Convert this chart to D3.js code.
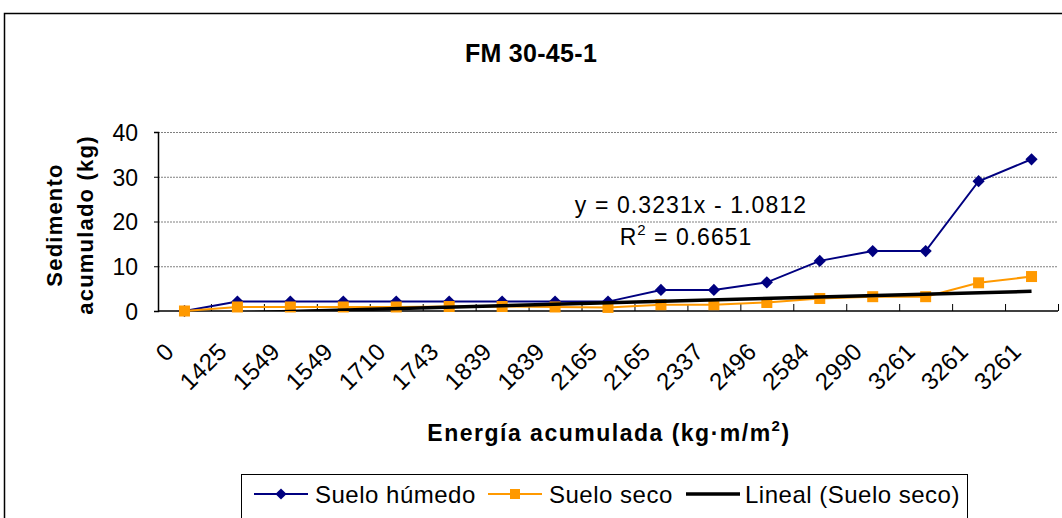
<!DOCTYPE html>
<html>
<head>
<meta charset="utf-8">
<script src="https://cdn.jsdelivr.net/npm/d3@7"></script>
<style>
  html, body { margin: 0; padding: 0; background: #fff; }
  svg { display: block; font-family: Arial, "Liberation Sans", sans-serif; }
</style>
</head>
<body>
<svg id="chart" width="1062" height="518"></svg>
<script>
// ---- data ----
const categories = ["0","1425","1549","1549","1710","1743","1839","1839","2165","2165","2337","2496","2584","2990","3261","3261","3261"];
const sueloHumedo = [0, 2.1, 2.1, 2.1, 2.1, 2.1, 2.1, 2.1, 2.1, 4.7, 4.7, 6.4, 11.2, 13.4, 13.4, 29.0, 33.9];
const sueloSeco   = [0, 0.9, 0.9, 0.9, 0.9, 1.0, 1.0, 0.9, 0.8, 1.4, 1.4, 1.9, 2.8, 3.2, 3.2, 6.3, 7.7];
const trendCoef = [0.3231, -1.0812];   // slope, intercept (x = 1..n)
const yTicks = [0, 10, 20, 30, 40];
const titleText = "FM 30-45-1";
const seriesNames = ["Suelo húmedo", "Suelo seco", "Lineal (Suelo seco)"];

// ---- layout ----
const svg = d3.select("#chart");
const pL = 158, pR = 1058, pT = 132, pB = 311;
const cBlue = "#000080", cOrange = "#FF9900";

// outer chart border
svg.append("rect").attr("x", 4.5).attr("y", 13.5).attr("width", 1070).attr("height", 520)
  .attr("fill", "#fff").attr("stroke", "#000").attr("stroke-width", 1.5);

const x = d3.scaleBand().domain(d3.range(categories.length)).range([pL, pR]).padding(0);
const xc = i => x(i) + x.bandwidth() / 2;
const y = d3.scaleLinear().domain([0, 40]).range([pB, pT]);
const xt = d3.scaleLinear().domain([1, categories.length]).range([xc(0), xc(categories.length - 1)]);

// title
svg.append("text").attr("x", 531).attr("y", 62).attr("text-anchor", "middle")
  .attr("font-size", 25).attr("font-weight", "bold").attr("letter-spacing", 0.3).text(titleText);

// gridlines
svg.append("g").selectAll("line").data(yTicks.filter(d => d > 0)).join("line")
  .attr("x1", pL).attr("x2", pR).attr("y1", d => y(d) + 0.5).attr("y2", d => y(d) + 0.5)
  .attr("stroke", "#808080").attr("stroke-width", 1).attr("stroke-dasharray", "2,1");

// y axis
const yAxis = svg.append("g").attr("transform", `translate(${pL},0)`)
  .call(d3.axisLeft(y).tickValues(yTicks).tickSize(4).tickPadding(16));
yAxis.select(".domain").attr("stroke", "#000").attr("stroke-width", 1.5);
yAxis.selectAll("text").attr("font-size", 23).attr("font-family", "Arial, 'Liberation Sans', sans-serif").attr("fill", "#000").attr("dy", "0.36em");

// x axis line and inside ticks at category boundaries
svg.append("line").attr("x1", pL).attr("x2", pR).attr("y1", pB).attr("y2", pB)
  .attr("stroke", "#000").attr("stroke-width", 1.5);
svg.append("g").selectAll("line").data(d3.range(categories.length + 1)).join("line")
  .attr("x1", i => (i < categories.length ? x(i) : pR) + 0.5)
  .attr("x2", i => (i < categories.length ? x(i) : pR) + 0.5)
  .attr("y1", pB).attr("y2", pB - 7).attr("stroke", "#000").attr("stroke-width", 1);

// x tick labels
svg.append("g").selectAll("text").data(categories).join("text")
  .attr("transform", (d, i) => `translate(${xc(i) - 9},${353}) rotate(-45)`)
  .attr("text-anchor", "end").attr("font-size", 24).attr("letter-spacing", 0.3).text(d => d);

// axis titles
const yt = svg.append("text").attr("transform", "translate(0,225) rotate(-90)")
  .attr("text-anchor", "middle").attr("font-size", 22).attr("font-weight", "bold").attr("letter-spacing", 1.2);
yt.append("tspan").attr("x", 0).attr("y", 62).text("Sedimento");
yt.append("tspan").attr("x", 0).attr("y", 93).text("acumulado (kg)");

const xtl = svg.append("text").attr("x", 609).attr("y", 441).attr("text-anchor", "middle")
  .attr("font-size", 23).attr("font-weight", "bold").attr("letter-spacing", 1.5);
xtl.append("tspan").text("Energía acumulada (kg·m/m");
xtl.append("tspan").attr("font-size", 15).attr("dy", -10).text("2");
xtl.append("tspan").attr("dy", 10).text(")");

// clip for plot area
svg.append("clipPath").attr("id", "plotclip").append("rect")
  .attr("x", pL).attr("y", pT - 20).attr("width", pR - pL + 10).attr("height", pB - pT + 20);

const line = d3.line().x((d, i) => xc(i)).y(d => y(d));

// Suelo húmedo
svg.append("path").datum(sueloHumedo).attr("d", line).attr("fill", "none")
  .attr("stroke", cBlue).attr("stroke-width", 2);
svg.append("g").selectAll("path").data(sueloHumedo).join("path")
  .attr("d", d3.symbol(d3.symbolDiamond2, 95))
  .attr("transform", (d, i) => `translate(${xc(i)},${y(d)})`).attr("fill", cBlue);

// Suelo seco
svg.append("path").datum(sueloSeco).attr("d", line).attr("fill", "none")
  .attr("stroke", cOrange).attr("stroke-width", 2);
svg.append("g").selectAll("rect").data(sueloSeco).join("rect")
  .attr("x", (d, i) => xc(i) - 5.5).attr("y", d => y(d) - 5.5).attr("width", 11).attr("height", 11)
  .attr("fill", cOrange);

// linear trendline (clipped to the plot area)
const trendX = [1, categories.length];
svg.append("path").attr("clip-path", "url(#plotclip)")
  .datum(trendX).attr("fill", "none").attr("stroke", "#000").attr("stroke-width", 3.5)
  .attr("d", d3.line().x(d => xt(d)).y(d => y(trendCoef[0] * d + trendCoef[1])));

// equation label
svg.append("text").attr("x", 691).attr("y", 213).attr("text-anchor", "middle")
  .attr("font-size", 23).attr("letter-spacing", 1.1)
  .text(`y = ${trendCoef[0]}x - ${Math.abs(trendCoef[1])}`);
const r2 = svg.append("text").attr("x", 686).attr("y", 245).attr("text-anchor", "middle")
  .attr("font-size", 23).attr("letter-spacing", 1);
r2.append("tspan").text("R");
r2.append("tspan").attr("font-size", 15).attr("dy", -10).text("2");
r2.append("tspan").attr("dy", 10).text(" = 0.6651");

// legend
const lg = svg.append("g");
lg.append("rect").attr("x", 241.5).attr("y", 474.5).attr("width", 726).attr("height", 60)
  .attr("fill", "#fff").attr("stroke", "#000").attr("stroke-width", 1);
const legendItems = [
  { name: seriesNames[0], color: cBlue, x0: 254, x1: 308, tx: 315, marker: "diamond" },
  { name: seriesNames[1], color: cOrange, x0: 488, x1: 542, tx: 549, marker: "square" },
  { name: seriesNames[2], color: "#000", x0: 686, x1: 740, tx: 745, marker: null }
];
const ly = 494;
legendItems.forEach(it => {
  lg.append("line").attr("x1", it.x0).attr("x2", it.x1).attr("y1", ly).attr("y2", ly)
    .attr("stroke", it.color).attr("stroke-width", it.marker ? 2 : 3.5);
  const mx = (it.x0 + it.x1) / 2;
  if (it.marker === "diamond") {
    lg.append("path").attr("d", d3.symbol(d3.symbolDiamond2, 80)).attr("transform", `translate(${mx},${ly})`).attr("fill", it.color);
  } else if (it.marker === "square") {
    lg.append("rect").attr("x", mx - 5).attr("y", ly - 5).attr("width", 10).attr("height", 10).attr("fill", it.color);
  }
  lg.append("text").attr("x", it.tx).attr("y", ly + 9).attr("font-size", 24).attr("letter-spacing", 0.5).text(it.name);
});
</script>
</body>
</html>
